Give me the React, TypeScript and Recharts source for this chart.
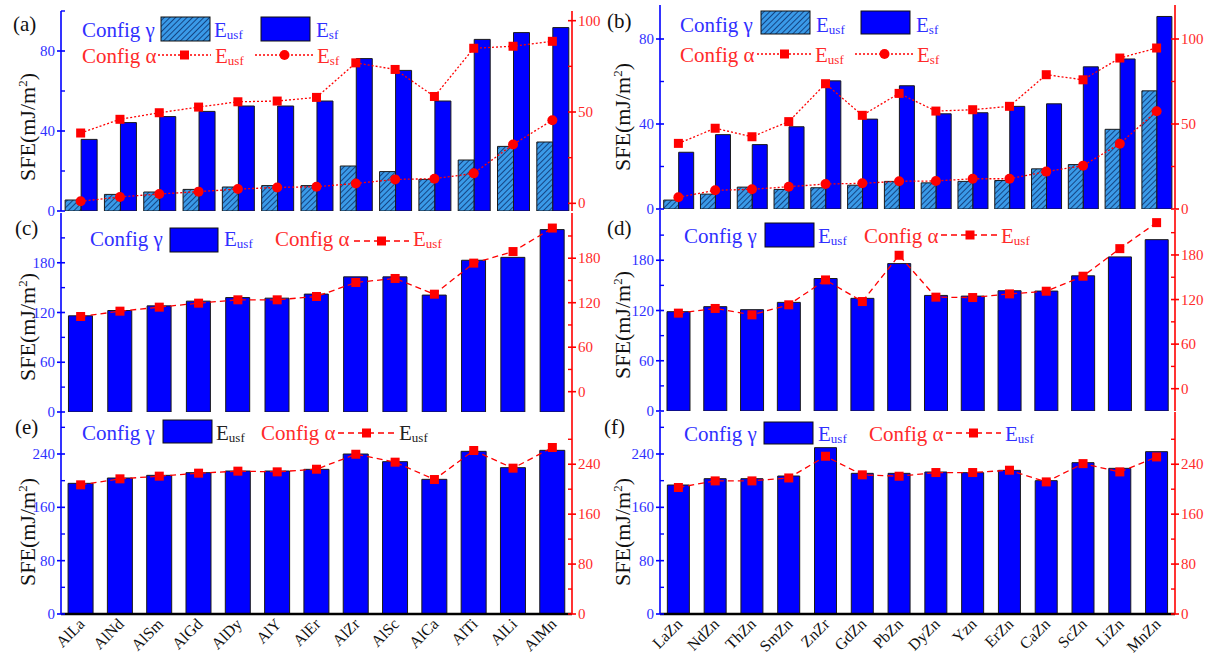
import React from 'react';
import { ComposedChart, Bar, Line, XAxis, YAxis } from 'recharts';

const SERIF = "'Liberation Serif', 'Times New Roman', serif";
const BLUE = '#0000ff';
const BLUE_TXT = '#3030ff';
const RED = '#ff0000';
const RED_TXT = '#ff2a2a';

// categories
const alloysAl = ['AlLa', 'AlNd', 'AlSm', 'AlGd', 'AlDy', 'AlY', 'AlEr', 'AlZr', 'AlSc', 'AlCa', 'AlTi', 'AlLi', 'AlMn'];
const alloysZn = ['LaZn', 'NdZn', 'ThZn', 'SmZn', 'ZnZr', 'GdZn', 'PbZn', 'DyZn', 'Yzn', 'ErZn', 'CaZn', 'ScZn', 'LiZn', 'MnZn'];

// (a) Al-based, config gamma (bars, left axis) / config alpha (lines, right axis)
const aUsfGamma = [5.5, 8.3, 9.5, 10.8, 12, 12.7, 12.7, 22.5, 19.7, 15.8, 25.5, 32.3, 34.5];
const aSfGamma = [35.8, 44.2, 47.2, 49.8, 52.5, 52.5, 55, 76.2, 70.3, 55, 85.8, 89.2, 91.7];
const aUsfAlpha = [38.5, 46, 49.6, 52.7, 55.6, 56, 58, 76.9, 73.3, 58.5, 84.9, 86, 88.7];
const aSfAlpha = [1.1, 3.5, 5.1, 6.4, 7.8, 8.7, 9.1, 10.9, 13.1, 13.5, 16.4, 32.2, 45.5];

// (b) Zn-based
const bUsfGamma = [4.2, 7.0, 10.3, 9.2, 10.0, 11.2, 13, 12.3, 13, 13.4, 18.9, 20.9, 37.5, 55.6];
const bSfGamma = [26.7, 35, 30.3, 38.7, 60.3, 42.3, 58, 44.8, 45.3, 48.3, 49.5, 66.9, 70.6, 90.6];
const bUsfAlpha = [38.6, 47.5, 42.5, 51.4, 73.7, 55.1, 68, 57.6, 58.4, 60.4, 79, 76, 88.8, 94.7];
const bSfAlpha = [6.9, 11, 11.6, 13.1, 14.7, 15.1, 16.3, 16.5, 17.8, 17.8, 22, 25.5, 38.4, 57.5];

// (c) / (d)
const cUsfGamma = [116, 122.4, 128, 133.7, 138, 137.3, 142.2, 163, 163, 141, 183, 186.5, 220];
const cUsfAlpha = [101.4, 108.6, 114, 119.4, 123.9, 123.9, 128.4, 147.3, 152.7, 131.5, 173.4, 189, 220.7];
const dUsfGamma = [118.6, 124.6, 121, 129.7, 158.2, 134.5, 176, 138, 137.2, 143.6, 143.2, 161.4, 184, 204.6];
const dUsfAlpha = [101.7, 108, 99.4, 112.9, 146.4, 117.3, 179.6, 123.2, 122.7, 127.6, 131.2, 151.4, 188.5, 223.5];

// (e) / (f)
const eUsfGamma = [196, 204, 208, 212, 214.5, 214.5, 217, 240, 228.5, 202, 244, 219.5, 245.5];
const eUsfAlpha = [207, 216.6, 220.9, 225.7, 228.9, 227.8, 232, 256, 243.3, 215.5, 262, 233.7, 266.8];
const fUsfGamma = [193.5, 203, 203, 207, 249.5, 211, 211, 213, 212, 215.5, 200, 227, 218.5, 243.5];
const fUsfAlpha = [202.7, 213.3, 213.3, 218, 252.8, 223, 220.8, 226.7, 226.7, 230.4, 211.7, 241, 227.7, 251.7];

// axis ticks
const ticksA_L = [0, 40, 80]; const minorA_L = [20, 60, 100];
const ticksAB_R = [0, 50, 100]; const minorAB_R = [25, 75];
const ticksB_L = [0, 40, 80]; const minorB_L = [20, 60];
const ticksCD = [0, 60, 120, 180]; const minorCD = [30, 90, 150, 210];
const ticksEF = [0, 80, 160, 240]; const minorEF = [40, 120, 200, 280];

const makeYTick = (side: 'left' | 'right', major: number[], color: string, txt: string) => (p: any) => {
  const { x, y, payload } = p;
  const v = payload.value;
  const isMajor = major.includes(v);
  const out = side === 'left' ? -1 : 1;
  return (
    <g>
      {isMajor
        ? <line x1={x - 4} x2={x + 4} y1={y} y2={y} stroke={color} strokeWidth={1.6} />
        : <line x1={x} x2={x - out * 4} y1={y} y2={y} stroke={color} strokeWidth={1.4} />}
      {isMajor && (
        <text x={x + out * 6} y={y} dy={5} textAnchor={side === 'left' ? 'end' : 'start'}
          fontSize={15} fontFamily={SERIF} fill={txt}>{v}</text>
      )}
    </g>
  );
};

const XTick = (p: any) => {
  const { x, y, payload } = p;
  const ax = x + 5, ay = y + 11;
  return (
    <text x={ax} y={ay} transform={`rotate(-45 ${ax} ${ay})`} textAnchor="end"
      fontSize={16} fontFamily={SERIF} fill="#111">{payload.value}</text>
  );
};

const squareDot = (p: any) => <rect key={`s${p.index}`} x={p.cx - 4.5} y={p.cy - 4.5} width={9} height={9} fill={RED} />;
const circleDot = (p: any) => <circle key={`c${p.index}`} cx={p.cx} cy={p.cy} r={5} fill={RED} />;

type SeriesBar = { key: string; values: number[]; fill: string };
type SeriesLine = { key: string; values: number[]; marker: 'square' | 'circle'; dash: string };

type PanelProps = {
  cats: string[];
  bars: SeriesBar[];
  lines: SeriesLine[];
  plotLeft: number; plotTop: number; plotW: number; plotH: number;
  leftDomain: [number, number]; leftMajor: number[]; leftMinor: number[];
  rightDomain: [number, number]; rightMajor: number[]; rightMinor: number[];
  gap: string; showX: boolean;
};

const Panel = (props: PanelProps) => {
  const { cats, bars, lines, plotLeft, plotTop, plotW, plotH, showX } = props;
  const data = cats.map((c, i) => {
    const row: any = { name: c };
    bars.forEach(b => { row[b.key] = b.values[i]; });
    lines.forEach(l => { row[l.key] = l.values[i]; });
    return row;
  });
  const LW = 61, RW = 40, MT = 10;
  const xh = showX ? 50 : 0;
  const mb = showX ? 0 : 10;
  const width = LW + plotW + RW;
  const height = MT + plotH + xh + mb;
  const leftTicks = [...props.leftMajor, ...props.leftMinor].sort((a, b) => a - b);
  const rightTicks = [...props.rightMajor, ...props.rightMinor].sort((a, b) => a - b);
  return (
    <div style={{ position: 'absolute', left: plotLeft - LW, top: plotTop - MT, width, height }}>
      <ComposedChart width={width} height={height} data={data}
        margin={{ top: MT, right: 0, left: 0, bottom: mb }}
        barCategoryGap={props.gap} barGap={0}>
        <XAxis dataKey="name" height={xh} interval={0} tickSize={0} tickMargin={0}
          tick={showX ? XTick : false} tickLine={false}
          axisLine={{ stroke: '#000', strokeWidth: 2.5 }} />
        <XAxis xAxisId="top" orientation="top" dataKey="name" height={0} tick={false} tickLine={false}
          axisLine={{ stroke: '#000', strokeWidth: 1.6 }} />
        <YAxis yAxisId="L" orientation="left" width={LW} type="number" domain={props.leftDomain}
          allowDataOverflow ticks={leftTicks} interval={0} tickSize={0} tickMargin={0} tickLine={false}
          axisLine={{ stroke: BLUE, strokeWidth: 1.6 }}
          tick={makeYTick('left', props.leftMajor, BLUE, BLUE_TXT)} />
        <YAxis yAxisId="R" orientation="right" width={RW} type="number" domain={props.rightDomain}
          allowDataOverflow ticks={rightTicks} interval={0} tickSize={0} tickMargin={0} tickLine={false}
          axisLine={{ stroke: RED, strokeWidth: 1.6 }}
          tick={makeYTick('right', props.rightMajor, RED, RED_TXT)} />
        {bars.map(b => (
          <Bar key={b.key} yAxisId="L" dataKey={b.key} fill={b.fill} stroke="#1a1a1a" strokeWidth={1}
            isAnimationActive={false} />
        ))}
        {lines.map(l => (
          <Line key={l.key} yAxisId="R" dataKey={l.key} type="linear" stroke={RED} strokeWidth={1.3}
            strokeDasharray={l.dash} dot={l.marker === 'square' ? squareDot : circleDot}
            activeDot={false} isAnimationActive={false} />
        ))}
      </ComposedChart>
    </div>
  );
};

const Sub = ({ x, y, sub, fill }: any) => (
  <text x={x} y={y} fill={fill} fontSize={21} fontFamily={SERIF}>
    E<tspan fontSize={13} dy={2}>{sub}</tspan>
  </text>
);

const LegLine = ({ x1, x2, y, dash, marker }: any) => (
  <g>
    <line x1={x1} x2={x2} y1={y} y2={y} stroke={RED} strokeWidth={1.3} strokeDasharray={dash} />
    {marker === 'square'
      ? <rect x={(x1 + x2) / 2 - 4.5} y={y - 4.5} width={9} height={9} fill={RED} />
      : <circle cx={(x1 + x2) / 2} cy={y} r={5} fill={RED} />}
  </g>
);

const T = ({ x, y, fill, children, size = 21 }: any) => (
  <text x={x} y={y} fill={fill} fontSize={size} fontFamily={SERIF}>{children}</text>
);

const YTitle = ({ x, y }: any) => (
  <text transform={`translate(${x},${y}) rotate(-90)`} textAnchor="middle" fontSize={22} fontFamily={SERIF} fill="#111">
    SFE(mJ/m<tspan fontSize={13} dy={-8}>2</tspan><tspan dy={8}>)</tspan>
  </text>
);

const Overlay = () => (
  <svg width={1216} height={657} style={{ position: 'absolute', left: 0, top: 0, pointerEvents: 'none' }}>
    {/* panel letters */}
    <T x={13} y={31} fill="#111">(a)</T>
    <T x={607} y={28} fill="#111">(b)</T>
    <T x={15} y={235} fill="#111">(c)</T>
    <T x={607} y={235} fill="#111">(d)</T>
    <T x={15} y={434} fill="#111">(e)</T>
    <T x={604} y={434} fill="#111">(f)</T>
    {/* y titles */}
    <YTitle x={35} y={127} />
    <YTitle x={630} y={117} />
    <YTitle x={35} y={327} />
    <YTitle x={630} y={325} />
    <YTitle x={35} y={532} />
    <YTitle x={630} y={532} />

    {/* legend (a) */}
    <T x={82} y={37} fill={BLUE_TXT}>Config γ</T>
    <rect x={161} y={17} width={49} height={24} fill="url(#hatchBlue)" stroke="#111" strokeWidth={1} />
    <Sub x={214} y={37} sub="usf" fill={BLUE_TXT} />
    <rect x={261} y={17} width={49} height={24} fill={BLUE} stroke="#111" strokeWidth={1} />
    <Sub x={316} y={37} sub="sf" fill={BLUE_TXT} />
    <T x={82} y={63} fill={RED_TXT}>Config α</T>
    <LegLine x1={158} x2={211} y={55} dash="2 2" marker="square" />
    <Sub x={215} y={63} sub="usf" fill={RED_TXT} />
    <LegLine x1={255} x2={314} y={55} dash="2 2" marker="circle" />
    <Sub x={317} y={63} sub="sf" fill={RED_TXT} />

    {/* legend (b) */}
    <T x={680} y={32} fill={BLUE_TXT}>Config γ</T>
    <rect x={761} y={11} width={49} height={23} fill="url(#hatchBlue)" stroke="#111" strokeWidth={1} />
    <Sub x={816} y={32} sub="usf" fill={BLUE_TXT} />
    <rect x={861} y={11} width={49} height={23} fill={BLUE} stroke="#111" strokeWidth={1} />
    <Sub x={916} y={32} sub="sf" fill={BLUE_TXT} />
    <T x={680} y={62} fill={RED_TXT}>Config α</T>
    <LegLine x1={757} x2={812} y={54} dash="2 2" marker="square" />
    <Sub x={815} y={62} sub="usf" fill={RED_TXT} />
    <LegLine x1={855} x2={914} y={54} dash="2 2" marker="circle" />
    <Sub x={917} y={62} sub="sf" fill={RED_TXT} />

    {/* legend (c) */}
    <T x={90} y={246} fill={BLUE_TXT}>Config γ</T>
    <rect x={170} y={228} width={48} height={24} fill={BLUE} stroke="#111" strokeWidth={1} />
    <Sub x={224} y={246} sub="usf" fill={BLUE_TXT} />
    <T x={275} y={246} fill={RED_TXT}>Config α</T>
    <LegLine x1={354} x2={409} y={241} dash="6 4" marker="square" />
    <Sub x={413} y={246} sub="usf" fill={RED_TXT} />

    {/* legend (d) */}
    <T x={684} y={243} fill={BLUE_TXT}>Config γ</T>
    <rect x={765} y={223} width={49} height={24} fill={BLUE} stroke="#111" strokeWidth={1} />
    <Sub x={818} y={243} sub="usf" fill={BLUE_TXT} />
    <T x={864} y={243} fill={RED_TXT}>Config α</T>
    <LegLine x1={941} x2={999} y={235} dash="6 4" marker="square" />
    <Sub x={1001} y={243} sub="usf" fill={RED_TXT} />

    {/* legend (e) */}
    <T x={82} y={440} fill={BLUE_TXT}>Config γ</T>
    <rect x={163} y={420} width={49} height={23} fill={BLUE} stroke="#111" strokeWidth={1} />
    <Sub x={216} y={440} sub="usf" fill="#222" />
    <T x={261} y={440} fill={RED_TXT}>Config α</T>
    <LegLine x1={338} x2={395} y={433} dash="6 4" marker="square" />
    <Sub x={399} y={440} sub="usf" fill="#222" />

    {/* legend (f) */}
    <T x={684} y={441} fill={BLUE_TXT}>Config γ</T>
    <rect x={764} y={422} width={49} height={22} fill={BLUE} stroke="#111" strokeWidth={1} />
    <Sub x={818} y={441} sub="usf" fill={BLUE_TXT} />
    <T x={869} y={441} fill={RED_TXT}>Config α</T>
    <LegLine x1={946} x2={1001} y={433} dash="6 4" marker="square" />
    <Sub x={1005} y={441} sub="usf" fill={BLUE_TXT} />
  </svg>
);

export default function App() {
  return (
    <div style={{ position: 'absolute', left: 0, top: 0, width: 1216, height: 657, background: '#fff', overflow: 'hidden' }}>
      <svg width={0} height={0} style={{ position: 'absolute' }}>
        <defs>
          <pattern id="hatchBlue" width={4} height={4} patternUnits="userSpaceOnUse" patternTransform="rotate(45)">
            <rect width={4} height={4} fill="#3a9ae8" />
            <line x1={0} y1={0} x2={0} y2={4} stroke="#0b2f6b" strokeWidth={1.6} />
          </pattern>
        </defs>
      </svg>

      <Panel cats={alloysAl}
        bars={[{ key: 'usfG', values: aUsfGamma, fill: 'url(#hatchBlue)' }, { key: 'sfG', values: aSfGamma, fill: BLUE }]}
        lines={[{ key: 'usfA', values: aUsfAlpha, marker: 'square', dash: '2 2' }, { key: 'sfA', values: aSfAlpha, marker: 'circle', dash: '2 2' }]}
        plotLeft={61} plotTop={11} plotW={511} plotH={200}
        leftDomain={[0, 100]} leftMajor={ticksA_L} leftMinor={minorA_L}
        rightDomain={[-4.2, 105.3]} rightMajor={ticksAB_R} rightMinor={minorAB_R}
        gap="10.5%" showX={false} />

      <Panel cats={alloysZn}
        bars={[{ key: 'usfG', values: bUsfGamma, fill: 'url(#hatchBlue)' }, { key: 'sfG', values: bSfGamma, fill: BLUE }]}
        lines={[{ key: 'usfA', values: bUsfAlpha, marker: 'square', dash: '2 2' }, { key: 'sfA', values: bSfAlpha, marker: 'circle', dash: '2 2' }]}
        plotLeft={660} plotTop={5} plotW={515} plotH={204}
        leftDomain={[0, 96]} leftMajor={ticksB_L} leftMinor={minorB_L}
        rightDomain={[0, 120]} rightMajor={ticksAB_R} rightMinor={minorAB_R}
        gap="10%" showX={false} />

      <Panel cats={alloysAl}
        bars={[{ key: 'usfG', values: cUsfGamma, fill: BLUE }]}
        lines={[{ key: 'usfA', values: cUsfAlpha, marker: 'square', dash: '6 4' }]}
        plotLeft={61} plotTop={213} plotW={511} plotH={199}
        leftDomain={[0, 240]} leftMajor={ticksCD} leftMinor={minorCD}
        rightDomain={[-27.4, 241]} rightMajor={ticksCD} rightMinor={minorCD}
        gap="19%" showX={false} />

      <Panel cats={alloysZn}
        bars={[{ key: 'usfG', values: dUsfGamma, fill: BLUE }]}
        lines={[{ key: 'usfA', values: dUsfAlpha, marker: 'square', dash: '6 4' }]}
        plotLeft={660} plotTop={210} plotW={515} plotH={201}
        leftDomain={[0, 240]} leftMajor={ticksCD} leftMinor={minorCD}
        rightDomain={[-30, 240.5]} rightMajor={ticksCD} rightMinor={minorCD}
        gap="19%" showX={false} />

      <Panel cats={alloysAl}
        bars={[{ key: 'usfG', values: eUsfGamma, fill: BLUE }]}
        lines={[{ key: 'usfA', values: eUsfAlpha, marker: 'square', dash: '6 4' }]}
        plotLeft={61} plotTop={412} plotW={511} plotH={202}
        leftDomain={[0, 303]} leftMajor={ticksEF} leftMinor={minorEF}
        rightDomain={[0, 323.7]} rightMajor={ticksEF} rightMinor={minorEF}
        gap="18%" showX={true} />

      <Panel cats={alloysZn}
        bars={[{ key: 'usfG', values: fUsfGamma, fill: BLUE }]}
        lines={[{ key: 'usfA', values: fUsfAlpha, marker: 'square', dash: '6 4' }]}
        plotLeft={660} plotTop={412} plotW={515} plotH={202}
        leftDomain={[0, 303]} leftMajor={ticksEF} leftMinor={minorEF}
        rightDomain={[0, 323.7]} rightMajor={ticksEF} rightMinor={minorEF}
        gap="20%" showX={true} />

      <Overlay />
    </div>
  );
}
